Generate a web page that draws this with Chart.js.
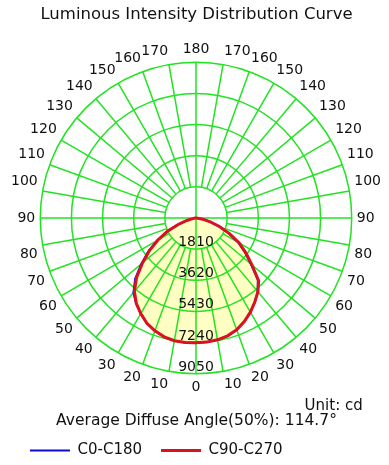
<!DOCTYPE html>
<html>
<head>
<meta charset="utf-8">
<script src="https://cdn.jsdelivr.net/npm/chart.js@4/dist/chart.umd.min.js"></script>
<style>
    html, body { margin: 0; padding: 0; background: #fff; }
</style>
</head>
<body>
<canvas id="ldcChart" width="389" height="465"></canvas>
<script>
// gamma angles (deg) and intensities (cd) for each half plane
const gammaAngles = [0, 5, 10, 15, 20, 25, 30, 35, 40, 45, 50, 55, 60, 65, 70, 75, 80, 85, 90];
const c0Values   = [7250, 7240, 7190, 7090, 6910, 6640, 6320, 5960, 5580, 5080, 4160, 3460, 2820, 2090, 1420, 840, 400, 120, 0];
const c180Values = [7260, 7260, 7240, 7150, 6980, 6750, 6420, 6070, 5660, 5000, 4150, 3380, 2610, 1870, 1120, 560, 200, 50, 0];
const c90Values  = [7250, 7240, 7190, 7090, 6910, 6640, 6320, 5960, 5600, 5150, 4250, 3550, 2900, 2150, 1450, 850, 400, 120, 0];
const c270Values = [7260, 7260, 7240, 7150, 6980, 6750, 6420, 6050, 5570, 4880, 4050, 3300, 2550, 1830, 1100, 550, 200, 50, 0];
const ringValues = [1810, 3620, 5430, 7240, 9050];

const angleStep = 5;
const gridColor = '#22e322';
const fontFamily = '"DejaVu Sans", Verdana, sans-serif';

// radar goes clockwise from the top: 180 .. 0 on the right, 0 .. 180 on the left
const pointCount = 360 / angleStep;
const gammaAtIndex = [];
for (let i = 0; i < pointCount; i++) {
    gammaAtIndex.push(i <= pointCount / 2 ? 180 - i * angleStep : i * angleStep - 180);
}
const angleLabels = gammaAtIndex.map(g => (g % 10 === 0 ? String(g) : ''));

function buildSeries(rightValues, leftValues) {
    return gammaAtIndex.map((g, i) => {
        const k = gammaAngles.indexOf(g);
        if (k < 0) return 0;
        return i <= pointCount / 2 ? rightValues[k] : leftValues[k];
    });
}

const polarGrid = {
    id: 'polarGrid',
    beforeDatasetsDraw(chart) {
        const r = chart.scales.r;
        const ctx = chart.ctx;
        const inner = r.getDistanceFromCenterForValue(ringValues[0]);
        const outer = r.getDistanceFromCenterForValue(ringValues[ringValues.length - 1]);

        ctx.save();
        ctx.strokeStyle = gridColor;
        ctx.lineWidth = 1.5;
        angleLabels.forEach((lab, i) => {
            if (lab === '') return;
            const through = lab === '0' || lab === '90' || lab === '180';
            const a = r.getPointPosition(i, through ? 0 : inner);
            const b = r.getPointPosition(i, outer);
            ctx.beginPath();
            ctx.moveTo(a.x, a.y);
            ctx.lineTo(b.x, b.y);
            ctx.stroke();
        });

        ctx.fillStyle = '#111';
        ctx.font = '14px ' + fontFamily;
        ctx.textAlign = 'center';
        ctx.textBaseline = 'alphabetic';
        ringValues.forEach(v => {
            const d = r.getDistanceFromCenterForValue(v);
            ctx.fillText(String(v), r.xCenter, r.yCenter + d - 3);
        });
        ctx.restore();
    },
    afterDraw(chart) {
        const r = chart.scales.r;
        const ctx = chart.ctx;
        const outer = r.getDistanceFromCenterForValue(ringValues[ringValues.length - 1]);
        ctx.save();
        ctx.fillStyle = '#111';
        ctx.font = '15px ' + fontFamily;
        ctx.textAlign = 'right';
        ctx.textBaseline = 'middle';
        ctx.fillText('Unit: cd', r.xCenter + outer + 11, r.yCenter + outer + 32);
        ctx.restore();
    }
};

const ctx = document.getElementById('ldcChart');

new Chart(ctx, {
    type: 'radar',
    data: {
        labels: angleLabels,
        datasets: [{
            label: 'C0-C180',
            data: buildSeries(c0Values, c180Values),
            borderColor: '#0a0ad8',
            backgroundColor: '#ffffc4',
            borderWidth: 2,
            fill: 'origin',
            pointRadius: 0,
            order: 1
        }, {
            label: 'C90-C270',
            data: buildSeries(c90Values, c270Values),
            borderColor: '#dd1020',
            backgroundColor: '#ffffc4',
            borderWidth: 3,
            fill: 'origin',
            pointRadius: 0,
            order: 0
        }]
    },
    plugins: [polarGrid],
    options: {
        responsive: false,
        animation: false,
        devicePixelRatio: 1,
        layout: {
            padding: { left: 11, right: 7, top: 0, bottom: -3 }
        },
        scales: {
            r: {
                min: 0,
                max: 9050,
                startAngle: 0,
                ticks: { display: false, stepSize: 1810 },
                grid: { circular: true, color: gridColor, lineWidth: 1.5 },
                angleLines: { display: false },
                pointLabels: {
                    color: '#111',
                    padding: 5,
                    font: { family: fontFamily, size: 14 }
                }
            }
        },
        plugins: {
            filler: { drawTime: 'beforeDraw' },
            tooltip: { enabled: false },
            title: {
                display: true,
                text: 'Luminous Intensity Distribution Curve',
                color: '#111',
                font: { family: fontFamily, size: 16.5, weight: 'normal' },
                padding: { top: 5, bottom: 16.2 }
            },
            subtitle: {
                display: true,
                position: 'bottom',
                weight: 500,
                text: 'Average Diffuse Angle(50%): 114.7°',
                color: '#111',
                font: { family: fontFamily, size: 15.5, weight: 'normal' },
                padding: { top: 14.4, bottom: -6 }
            },
            legend: {
                position: 'bottom',
                align: 'start',
                labels: {
                    usePointStyle: true,
                    pointStyle: 'line',
                    pointStyleWidth: 40,
                    padding: 19,
                    color: '#111',
                    font: { family: fontFamily, size: 15 },
                    sort: (a, b) => a.datasetIndex - b.datasetIndex
                }
            }
        }
    }
});
</script>
</body>
</html>
